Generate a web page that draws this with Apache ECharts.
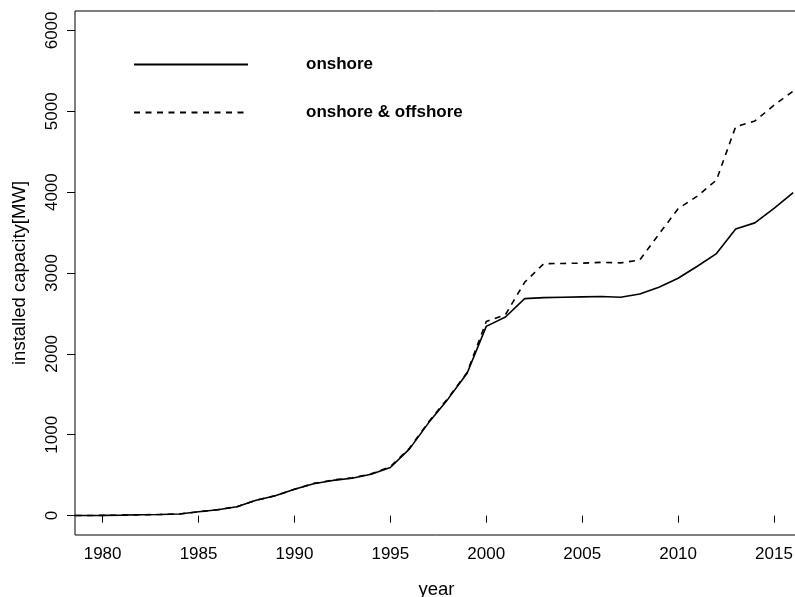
<!DOCTYPE html>
<html>
<head>
<meta charset="utf-8">
<script src="https://cdn.jsdelivr.net/npm/echarts@6/dist/echarts.min.js"></script>
<style>
html,body{margin:0;padding:0;background:#fff;}
#chart{width:795px;height:597px;}
</style>
</head>
<body>
<div id="chart"></div>
<script>
var years = [1978,1979,1980,1981,1982,1983,1984,1985,1986,1987,1988,1989,1990,1991,1992,1993,1994,1995,1996,1997,1998,1999,2000,2001,2002,2003,2004,2005,2006,2007,2008,2009,2010,2011,2012,2013,2014,2015,2016];
var onshore = [0,1,3,6,10,14,20,47,73,110,190,245,325,393,435,462,512,595,825,1150,1440,1760,2340,2456,2683,2695,2700,2705,2710,2700,2740,2825,2935,3083,3240,3545,3620,3800,3995];
var total = [0,1,3,6,10,14,20,47,73,110,190,245,325,398,440,467,517,605,835,1160,1450,1770,2400,2485,2885,3116,3118,3122,3132,3125,3160,3480,3795,3950,4150,4810,4880,5075,5250];
var xTicks = [1980,1985,1990,1995,2000,2005,2010,2015];
var yTicks = [0,1000,2000,3000,4000,5000,6000];
var seriesNames = ['onshore','onshore & offshore'];

function pairs(xs, ys){ var out=[]; for(var i=0;i<xs.length;i++) out.push([xs[i], ys[i]]); return out; }

var FONT = '"Liberation Sans", Arial, Helvetica, sans-serif';
var chart = echarts.init(document.getElementById('chart'), null, {renderer:'canvas'});
chart.setOption({
  animation: false,
  backgroundColor: '#ffffff',
  textStyle: {fontFamily: FONT},
  grid: {left: 75, top: 11, width: 723, height: 524, outerBoundsMode: 'none', containLabel: false,
         show: true, borderColor: '#000', borderWidth: 1, backgroundColor: 'transparent'},
  legend: {
    orient: 'vertical',
    left: 133, top: 56, padding: 0,
    itemWidth: 114, itemHeight: 14,
    itemGap: 31,
    data: seriesNames,
    itemStyle: {opacity: 0},
    textStyle: {fontFamily: FONT, fontSize: 17, fontWeight: 'bold', color: '#000', padding: [4,0,0,53]},
    selectedMode: false
  },
  xAxis: {
    type: 'value', min: 1978.56, max: 2016.25,
    name: 'year', nameLocation: 'middle', nameGap: 45,
    nameTextStyle: {fontFamily: FONT, fontSize: 18.5, color: '#000'},
    axisLine: {show: false},
    splitLine: {show: false},
    axisTick: {show: true, length: 7, customValues: xTicks, lineStyle: {color: '#000', width: 1}},
    axisLabel: {customValues: xTicks, fontFamily: FONT, fontSize: 17, color: '#000', margin: 11, formatter: function(v){return String(v);}}
  },
  yAxis: {
    type: 'value', min: -240, max: 6240,
    name: 'installed capacity[MW]', nameLocation: 'middle', nameGap: 46, nameRotate: 90,
    nameTextStyle: {fontFamily: FONT, fontSize: 18.5, color: '#000'},
    axisLine: {show: false},
    splitLine: {show: false},
    axisTick: {show: true, length: 8, customValues: yTicks, lineStyle: {color: '#000', width: 1}},
    axisLabel: {customValues: yTicks, rotate: 90, fontFamily: FONT, fontSize: 17, color: '#000', margin: 14, formatter: function(v){return String(v);}}
  },
  series: [
    {name: seriesNames[0], type: 'line', data: pairs(years, onshore), symbol: 'none', clip: true,
     lineStyle: {color: '#000', width: 1.6, type: 'solid'}, itemStyle: {color: '#000'}, z: 3},
    {name: seriesNames[1], type: 'line', data: pairs(years, total), symbol: 'none', clip: true,
     lineStyle: {color: '#000', width: 1.6, type: [6, 5.5]}, itemStyle: {color: '#000'}, z: 2}
  ]
});
</script>
</body>
</html>
